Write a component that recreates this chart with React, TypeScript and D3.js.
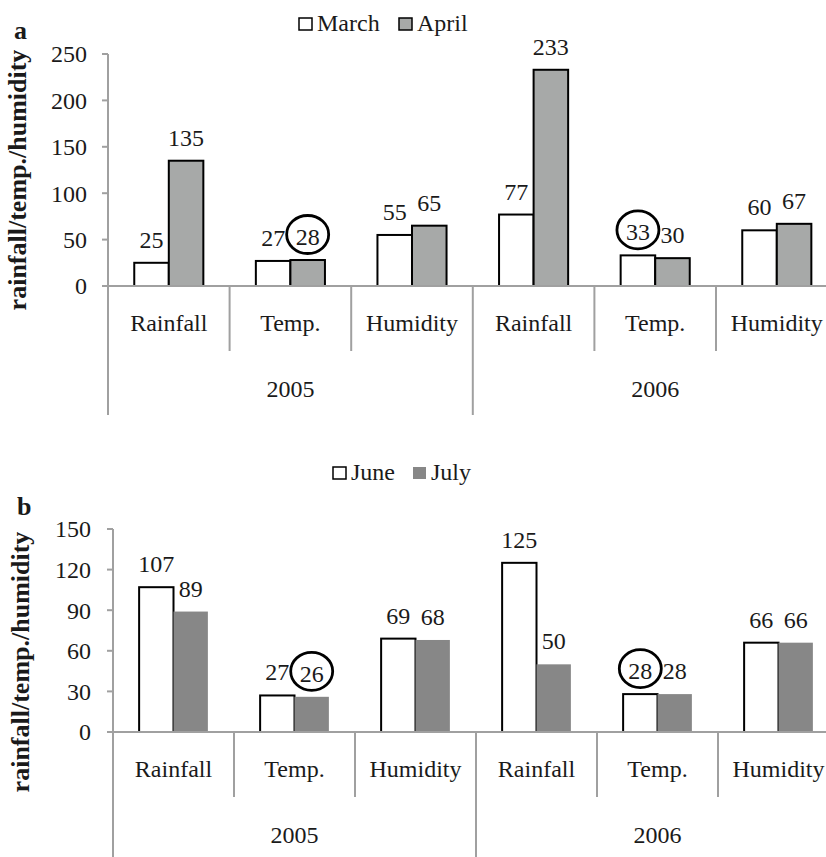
import React from "react";
import * as d3 from "d3";

// ---------- data ----------
const categories = ["Rainfall", "Temp.", "Humidity"];
const years = ["2005", "2006"];

const seriesA = ["March", "April"];
const marchValues = [25, 27, 55, 77, 33, 60];
const aprilValues = [135, 28, 65, 233, 30, 67];
const ticksA = [0, 50, 100, 150, 200, 250];

const seriesB = ["June", "July"];
const juneValues = [107, 27, 69, 125, 28, 66];
const julyValues = [89, 26, 68, 50, 28, 66];
const ticksB = [0, 30, 60, 90, 120, 150];

// circled labels: [slot index, series index]
const circledA = [
  [1, 1],
  [4, 0],
];
const circledB = [
  [1, 1],
  [4, 0],
];

// ---------- styles ----------
const FONT = "'Liberation Serif', 'Times New Roman', Times, serif";
const AXIS = "#a0a0a0";
const TEXT = "#1a1a1a";

type PanelCfg = {
  letter: string;
  letterX: number;
  letterY: number;
  series: string[];
  values: number[][];
  fills: string[];
  strokes: (string | null)[];
  ticks: number[];
  yMax: number;
  yBottom: number;
  yTop: number;
  left: number;
  step: number;
  minorBottom: number;
  majorBottom: number;
  catBaseline: number;
  yearBaseline: number;
  tickLabelRight: number;
  tickLen: number;
  titleX: number;
  titleY: number;
  legendX: number[];
  legendBaseline: number;
  circled: number[][];
};

function Panel({ cfg }: { cfg: PanelCfg }) {
  const slots = years.flatMap((y) => categories.map((c) => `${y}|${c}`));
  const x = d3
    .scaleBand<string>()
    .domain(slots)
    .range([cfg.left, cfg.left + cfg.step * slots.length])
    .paddingInner(0)
    .paddingOuter(0);
  const inner = d3
    .scaleBand<string>()
    .domain(cfg.series)
    .range([0, x.bandwidth()])
    .paddingInner(0)
    .paddingOuter(0.76);
  const y = d3
    .scaleLinear()
    .domain([0, cfg.yMax])
    .range([cfg.yBottom, cfg.yTop]);

  const boundaries = d3.range(slots.length + 1).map((i) => ({
    x: cfg.left + cfg.step * i,
    major: i % categories.length === 0,
  }));

  const barCenter = (slot: number, s: number) =>
    (x(slots[slot]) as number) + (inner(cfg.series[s]) as number) + inner.bandwidth() / 2;

  return (
    <g>
      {/* panel letter */}
      <text
        x={cfg.letterX}
        y={cfg.letterY}
        fontFamily={FONT}
        fontWeight="bold"
        fontSize={26}
        fill={TEXT}
      >
        {cfg.letter}
      </text>

      {/* y title */}
      <text
        transform={`translate(${cfg.titleX},${cfg.titleY}) rotate(-90)`}
        textAnchor="middle"
        fontFamily={FONT}
        fontWeight="bold"
        fontSize={26}
        fill={TEXT}
      >
        rainfall/temp./humidity
      </text>

      {/* legend */}
      {cfg.series.map((s, i) => (
        <g key={s}>
          <rect
            x={cfg.legendX[i]}
            y={cfg.legendBaseline - 13}
            width={13}
            height={12}
            fill={cfg.fills[i]}
            stroke={cfg.strokes[i] ?? "none"}
            strokeWidth={1.5}
          />
          <text
            x={cfg.legendX[i] + 18}
            y={cfg.legendBaseline}
            fontFamily={FONT}
            fontSize={24}
            fill={TEXT}
          >
            {s}
          </text>
        </g>
      ))}

      {/* y axis */}
      <line
        x1={cfg.left}
        x2={cfg.left}
        y1={y(cfg.yMax)}
        y2={y(0)}
        stroke={AXIS}
        strokeWidth={2}
      />
      {cfg.ticks.map((t) => (
        <g key={t}>
          <line
            x1={cfg.left - cfg.tickLen}
            x2={cfg.left}
            y1={y(t)}
            y2={y(t)}
            stroke={AXIS}
            strokeWidth={2}
          />
          <text
            x={cfg.tickLabelRight}
            y={y(t)}
            dy="0.35em"
            textAnchor="end"
            fontFamily={FONT}
            fontSize={24}
            fill={TEXT}
          >
            {t}
          </text>
        </g>
      ))}

      {/* bars */}
      {slots.map((slot, i) =>
        cfg.series.map((s, si) => {
          const v = cfg.values[si][i];
          const bx = (x(slot) as number) + (inner(s) as number);
          return (
            <rect
              key={slot + s}
              x={bx}
              y={y(v)}
              width={inner.bandwidth()}
              height={y(0) - y(v)}
              fill={cfg.fills[si]}
              stroke={cfg.strokes[si] ?? "none"}
              strokeWidth={2}
            />
          );
        })
      )}

      {/* x axis + separators */}
      <line
        x1={cfg.left}
        x2={826}
        y1={y(0)}
        y2={y(0)}
        stroke={AXIS}
        strokeWidth={2}
      />
      {boundaries.map((b, i) => (
        <line
          key={i}
          x1={b.x}
          x2={b.x}
          y1={y(0)}
          y2={b.major ? cfg.majorBottom : cfg.minorBottom}
          stroke={AXIS}
          strokeWidth={2}
        />
      ))}

      {/* category labels */}
      {slots.map((slot, i) => (
        <text
          key={slot}
          x={(x(slot) as number) + x.bandwidth() / 2}
          y={cfg.catBaseline}
          textAnchor="middle"
          fontFamily={FONT}
          fontSize={24}
          fill={TEXT}
        >
          {categories[i % categories.length]}
        </text>
      ))}
      {years.map((yr, i) => (
        <text
          key={yr}
          x={cfg.left + cfg.step * categories.length * (i + 0.5)}
          y={cfg.yearBaseline}
          textAnchor="middle"
          fontFamily={FONT}
          fontSize={24}
          fill={TEXT}
        >
          {yr}
        </text>
      ))}

      {/* value labels */}
      {slots.map((slot, i) =>
        cfg.series.map((s, si) => {
          const v = cfg.values[si][i];
          return (
            <text
              key={"l" + slot + s}
              x={barCenter(i, si)}
              y={y(v) - 15}
              textAnchor="middle"
              fontFamily={FONT}
              fontSize={24}
              fill={TEXT}
            >
              {v}
            </text>
          );
        })
      )}

      {/* circles around labels */}
      {cfg.circled.map(([slot, s], k) => {
        const v = cfg.values[s][slot];
        return (
          <ellipse
            key={"c" + k}
            cx={barCenter(slot, s)}
            cy={y(v) - 15 - 10.5}
            rx={21}
            ry={19}
            fill="none"
            stroke="#000"
            strokeWidth={2.8}
          />
        );
      })}
    </g>
  );
}

export default function App() {
  const cfgA: PanelCfg = {
    letter: "a",
    letterX: 14,
    letterY: 39,
    series: seriesA,
    values: [marchValues, aprilValues],
    fills: ["#ffffff", "#a7a9a8"],
    strokes: ["#000", "#000"],
    ticks: ticksA,
    yMax: 250,
    yBottom: 286,
    yTop: 54,
    left: 108,
    step: 121.6,
    minorBottom: 351,
    majorBottom: 415,
    catBaseline: 331,
    yearBaseline: 397,
    tickLabelRight: 87,
    tickLen: 6,
    titleX: 26,
    titleY: 180,
    legendX: [299, 399],
    legendBaseline: 31,
    circled: circledA,
  };
  const cfgB: PanelCfg = {
    letter: "b",
    letterX: 17,
    letterY: 515,
    series: seriesB,
    values: [juneValues, julyValues],
    fills: ["#ffffff", "#878787"],
    strokes: ["#000", null],
    ticks: ticksB,
    yMax: 150,
    yBottom: 732,
    yTop: 529,
    left: 113,
    step: 121,
    minorBottom: 797,
    majorBottom: 860,
    catBaseline: 777,
    yearBaseline: 843,
    tickLabelRight: 91,
    tickLen: 6,
    titleX: 29,
    titleY: 662,
    legendX: [333, 413],
    legendBaseline: 480,
    circled: circledB,
  };
  return (
    <svg
      width={826}
      height={857}
      style={{ position: "absolute", left: 0, top: 0, background: "#fff" }}
    >
      <rect width={826} height={857} fill="#fff" />
      <Panel cfg={cfgA} />
      <Panel cfg={cfgB} />
    </svg>
  );
}
